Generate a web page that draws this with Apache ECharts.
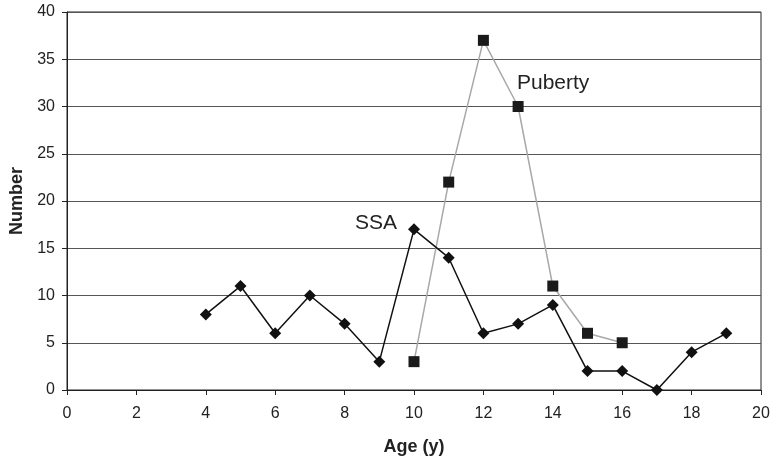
<!DOCTYPE html>
<html><head><meta charset="utf-8">
<script src="https://cdn.jsdelivr.net/npm/echarts@6/dist/echarts.min.js"></script>
<style>html,body{margin:0;padding:0;background:#fff}#c{width:773px;height:461px}</style>
</head><body><div id="c"></div>
<script>
const ssaAges = [4,5,6,7,8,9,10,11,12,13,14,15,16,17,18,19];
const ssaValues = [8,11,6,10,7,3,17,14,6,7,9,2,2,0,4,6];
const pubertyAges = [10,11,12,13,14,15,16];
const pubertyValues = [3,22,37,30,11,6,5];
const xTitle = 'Age (y)';
const yTitle = 'Number';

const font = 'Liberation Sans, Arial, sans-serif';
const chart = echarts.init(document.getElementById('c'));
chart.setOption({
  animation: false,
  backgroundColor: '#fff',
  grid: {left: 67, right: 12, top: 12, bottom: 71, show: true, borderColor: '#222', borderWidth: 1, backgroundColor: 'transparent'},
  xAxis: {
    type: 'value', min: 0, max: 20, interval: 2,
    name: xTitle, nameLocation: 'middle', nameGap: 48,
    nameTextStyle: {fontFamily: font, fontSize: 18, fontWeight: 'bold', color: '#222'},
    axisLine: {show: true, lineStyle: {color: '#222', width: 1}},
    axisTick: {show: true, length: 5, lineStyle: {color: '#222'}},
    axisLabel: {fontFamily: font, fontSize: 16, color: '#222', margin: 16},
    splitLine: {show: false}
  },
  yAxis: {
    type: 'value', min: 0, max: 40, interval: 5,
    name: yTitle, nameLocation: 'middle', nameGap: 40, nameRotate: 90,
    nameTextStyle: {fontFamily: font, fontSize: 18, fontWeight: 'bold', color: '#222'},
    axisLine: {show: true, lineStyle: {color: '#222', width: 1}},
    axisTick: {show: true, length: 5, lineStyle: {color: '#222'}},
    axisLabel: {fontFamily: font, fontSize: 16, color: '#222', margin: 12},
    splitLine: {show: true, lineStyle: {color: '#555', width: 1}}
  },
  series: [
    {
      type: 'line', name: 'Puberty',
      data: pubertyAges.map((a, i) => [a, pubertyValues[i]]),
      symbol: 'rect', symbolSize: 11,
      itemStyle: {color: '#1a1a1a'},
      lineStyle: {color: '#a8a8a8', width: 1.5},
      z: 2
    },
    {
      type: 'line', name: 'SSA',
      data: ssaAges.map((a, i) => [a, ssaValues[i]]),
      symbol: 'diamond', symbolSize: [12, 12],
      itemStyle: {color: '#111'},
      lineStyle: {color: '#111', width: 1.5},
      z: 3
    }
  ],
  graphic: [
    {type: 'text', left: 517, top: 73, style: {text: 'Puberty', font: '21px ' + font, fill: '#222'}},
    {type: 'text', left: 355, top: 213, style: {text: 'SSA', font: '21px ' + font, fill: '#222'}}
  ]
});
</script></body></html>
